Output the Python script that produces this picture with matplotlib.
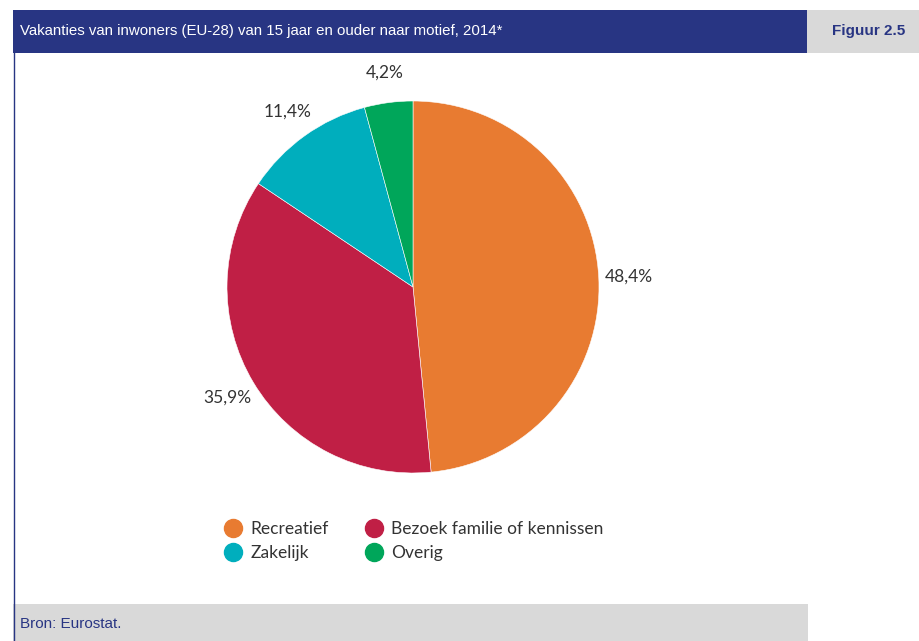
import matplotlib.pyplot as plt
import numpy as np
from matplotlib.patches import Rectangle
from matplotlib.lines import Line2D

# --- data ---
categories = ['Recreatief', 'Bezoek familie of kennissen', 'Zakelijk', 'Overig']
shares = [48.4, 35.9, 11.4, 4.2]
colors = ['#E87B31', '#C01F45', '#00AEBD', '#00A65A']

title = 'Vakanties van inwoners (EU-28) van 15 jaar en ouder naar motief, 2014*'
fig_label = 'Figuur 2.5'
source = 'Bron: Eurostat.'

W, H = 919, 641
navy = '#283583'
grey = '#D9D9D9'
narrow = ['Liberation Sans Narrow', 'Liberation Sans', 'DejaVu Sans']
body = ['Lato', 'DejaVu Sans']
ink = '#333333'

fig = plt.figure(figsize=(W / 100, H / 100), dpi=100)

def px(x, y, w, h):
    # pixel box (top-left origin) -> figure fraction
    return [x / W, 1 - (y + h) / H, w / W, h / H]

# frame: header bar, figure tag, footer, left rule
bg = fig.add_axes([0, 0, 1, 1])
bg.set_xlim(0, W)
bg.set_ylim(H, 0)
bg.axis('off')
bg.add_patch(Rectangle((13, 10), 794, 43, color=navy, lw=0))
bg.add_patch(Rectangle((807, 10), 112, 43, color=grey, lw=0))
bg.add_patch(Rectangle((13, 604), 795, 37, color=grey, lw=0))
bg.plot([13.5, 13.5], [53, 641], color=navy, lw=1)
bg.text(20, 31, title, color='white', fontsize=10.8, va='center', family=narrow)
bg.text(905, 31, fig_label, color=navy, fontsize=11, fontweight='bold',
        va='center', ha='right', family=narrow)
bg.text(20, 624, source, color=navy, fontsize=11, va='center', family=narrow)

# pie
cx, cy, r = 413, 287, 186
ax = fig.add_axes(px(cx - r, cy - r, 2 * r, 2 * r))
wedges, texts = ax.pie(shares, colors=colors, startangle=90, counterclock=False,
                       radius=1, labels=[('%.1f%%' % v).replace('.', ',') for v in shares],
                       labeldistance=1.16,
                       wedgeprops=dict(linewidth=0.4, edgecolor='white'))
for t in texts:
    t.set_ha('center')
    t.set_va('center')
    t.set_fontsize(12.5)
    t.set_family(body)
    t.set_color(ink)
ax.set_xlim(-1, 1)
ax.set_ylim(-1, 1)
ax.set_aspect('equal')

# legend
handles = [Line2D([], [], marker='o', ls='', markersize=13, color=c) for c in colors]
order = [0, 2, 1, 3]
leg = fig.legend([handles[i] for i in order], [categories[i] for i in order],
                 ncol=2, loc='center', bbox_to_anchor=(413 / W, 1 - 541 / H),
                 frameon=False, prop=dict(family=body, size=12.5),
                 handletextpad=0.4, columnspacing=2.0, labelspacing=0.45,
                 handlelength=1.2)
for t in leg.get_texts():
    t.set_color(ink)

fig.savefig('out.png', dpi=100)
